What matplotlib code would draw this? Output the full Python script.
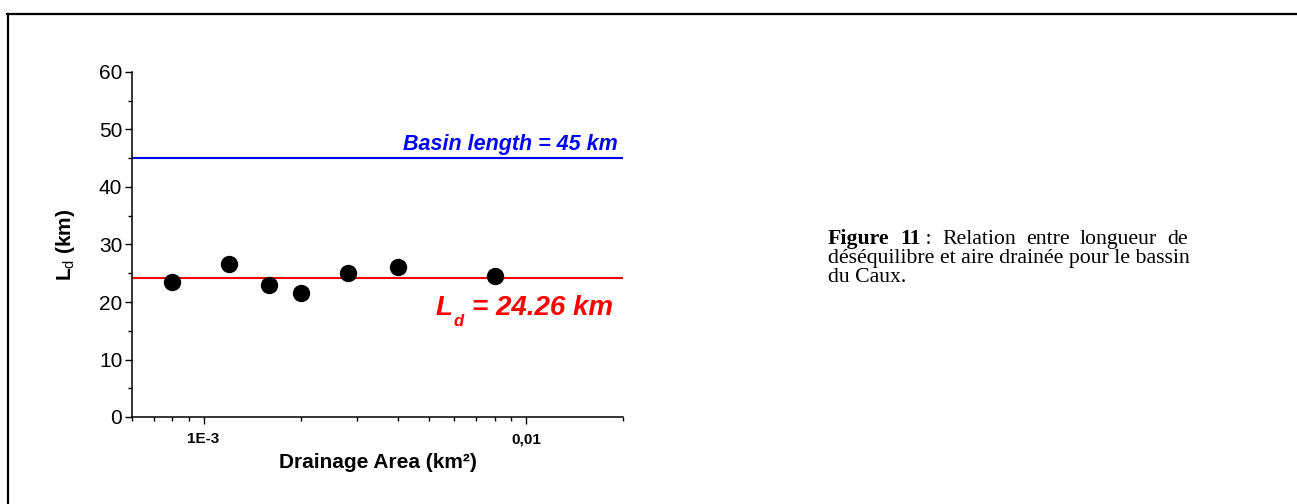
import matplotlib
matplotlib.use("Agg")
import matplotlib.pyplot as plt
from matplotlib.ticker import FixedLocator, LogLocator, MultipleLocator, NullFormatter
from matplotlib.lines import Line2D

plt.rcParams['font.family'] = ['Liberation Sans', 'DejaVu Sans']
plt.rcParams['mathtext.fontset'] = 'custom'
plt.rcParams['mathtext.rm'] = 'Liberation Sans'
plt.rcParams['mathtext.bf'] = 'Liberation Sans:bold'
plt.rcParams['mathtext.it'] = 'Liberation Sans:italic'

# ---- data ----
drainage_area = [8e-4, 1.2e-3, 1.6e-3, 2.0e-3, 2.8e-3, 4.0e-3, 8.0e-3]
ld_values = [23.4, 26.6, 22.9, 21.5, 25.1, 26.1, 24.5]
ld_mean = 24.26
basin_length = 45
x_ticks = [1e-3, 1e-2]
x_ticklabels = ['1E-3', '0,01']
y_ticks = [0, 10, 20, 30, 40, 50, 60]
caption_words = ['Figure', '11 :', 'Relation', 'entre', 'longueur', 'de']
caption_lines = [
    'déséquilibre et aire drainée pour le bassin',
    'du Caux.',
]

W, H = 1297, 504
fig = plt.figure(figsize=(W / 100, H / 100), dpi=100)
ax = fig.add_axes([132 / W, (H - 417) / H, 491 / W, 345 / H])

ax.axhline(basin_length, color='#0000ff', lw=1.5, zorder=2)
ax.axhline(ld_mean, color='#ff0000', lw=1.5, zorder=2)
ax.plot(drainage_area, ld_values, 'o', color='black', ms=11.5, zorder=3)

ax.set_xscale('log')
ax.set_xlim(6e-4, 2e-2)
ax.set_ylim(0, 60)
ax.xaxis.set_major_locator(FixedLocator(x_ticks))
ax.set_xticklabels(x_ticklabels, fontsize=11, fontweight='bold')
ax.xaxis.set_minor_locator(LogLocator(base=10, subs=range(2, 10), numticks=20))
ax.xaxis.set_minor_formatter(NullFormatter())
ax.yaxis.set_major_locator(FixedLocator(y_ticks))
ax.yaxis.set_minor_locator(MultipleLocator(5))
for lab in ax.get_yticklabels():
    lab.set_fontsize(15)

for s in ['top', 'right']:
    ax.spines[s].set_visible(False)
for s in ['left', 'bottom']:
    ax.spines[s].set_linewidth(1.1)
ax.tick_params(axis='both', which='major', length=5, width=1.0)
ax.tick_params(axis='both', which='minor', length=3, width=1.0)
ax.tick_params(axis='y', which='major', pad=2)
ax.tick_params(axis='x', which='major', pad=6)

ax.set_xlabel('Drainage Area (km²)', fontsize=15, fontweight='bold', labelpad=5)
ax.set_ylabel(r'$\mathbf{L}_{\mathrm{d}}$ (km)', fontsize=15, fontweight='bold', labelpad=16)

ax.text(0.99, (417 - 150) / 345, 'Basin length = 45 km', transform=ax.transAxes,
        ha='right', va='baseline', color='#0000ff', fontsize=15.5,
        fontweight='bold', fontstyle='italic')

t_main = ax.text(0.98, (417 - 315) / 345, '= 24.26 km', transform=ax.transAxes,
                 ha='right', va='baseline', color='#ff0000', fontsize=20,
                 fontweight='bold', fontstyle='italic')
ax.annotate('L', xy=(0, 0), xycoords=t_main, xytext=(-20, 0), textcoords='offset pixels',
            ha='right', va='bottom', color='#ff0000', fontsize=20,
            fontweight='bold', fontstyle='italic')
ax.annotate('d', xy=(0, 0), xycoords=t_main, xytext=(-9, -8), textcoords='offset pixels',
            ha='right', va='bottom', color='#ff0000', fontsize=12,
            fontweight='bold', fontstyle='italic')

# caption (justified first line)
serif = ['Liberation Serif', 'DejaVu Serif']
x0, x1 = 828, 1188
base = [244, 263, 282]
renderer = fig.canvas.get_renderer()

def ytf(py):
    return (H - py) / H

probe = fig.text(0, 0, caption_lines[0], family=serif, fontsize=12)
w12 = probe.get_window_extent(renderer).width
probe.remove()
fs = 12 * (x1 - x0) / w12

weights = ['bold', 'bold'] + ['normal'] * (len(caption_words) - 2)
widths = []
pieces = []
for w, fw in zip(caption_words, weights):
    if w.endswith(':'):
        t1 = fig.text(0, 0, w[:-2], family=serif, fontsize=fs, fontweight=fw)
        t2 = fig.text(0, 0, ' :', family=serif, fontsize=fs)
        w1 = t1.get_window_extent(renderer).width
        w2 = t2.get_window_extent(renderer).width
        t1.remove(); t2.remove()
        pieces.append([(w[:-2], fw, 0), (' :', 'normal', w1)])
        widths.append(w1 + w2)
    else:
        t = fig.text(0, 0, w, family=serif, fontsize=fs, fontweight=fw)
        widths.append(t.get_window_extent(renderer).width)
        t.remove()
        pieces.append([(w, fw, 0)])
gap = ((x1 - x0) - sum(widths)) / (len(caption_words) - 1)
cx = x0
for group, wd in zip(pieces, widths):
    for txt, fw, off in group:
        fig.text((cx + off) / W, ytf(base[0]), txt, family=serif, fontsize=fs,
                 fontweight=fw, ha='left', va='baseline')
    cx += wd + gap
for i, line in enumerate(caption_lines):
    fig.text(x0 / W, ytf(base[i + 1]), line, family=serif, fontsize=fs,
             ha='left', va='baseline')

# frame border (top and left edges)
fig.add_artist(Line2D([7 / W, 1.0], [ytf(14), ytf(14)], transform=fig.transFigure,
                      color='black', lw=1.6))
fig.add_artist(Line2D([8 / W, 8 / W], [ytf(14), 0], transform=fig.transFigure,
                      color='black', lw=1.6))

fig.savefig('out.png', dpi=100)
